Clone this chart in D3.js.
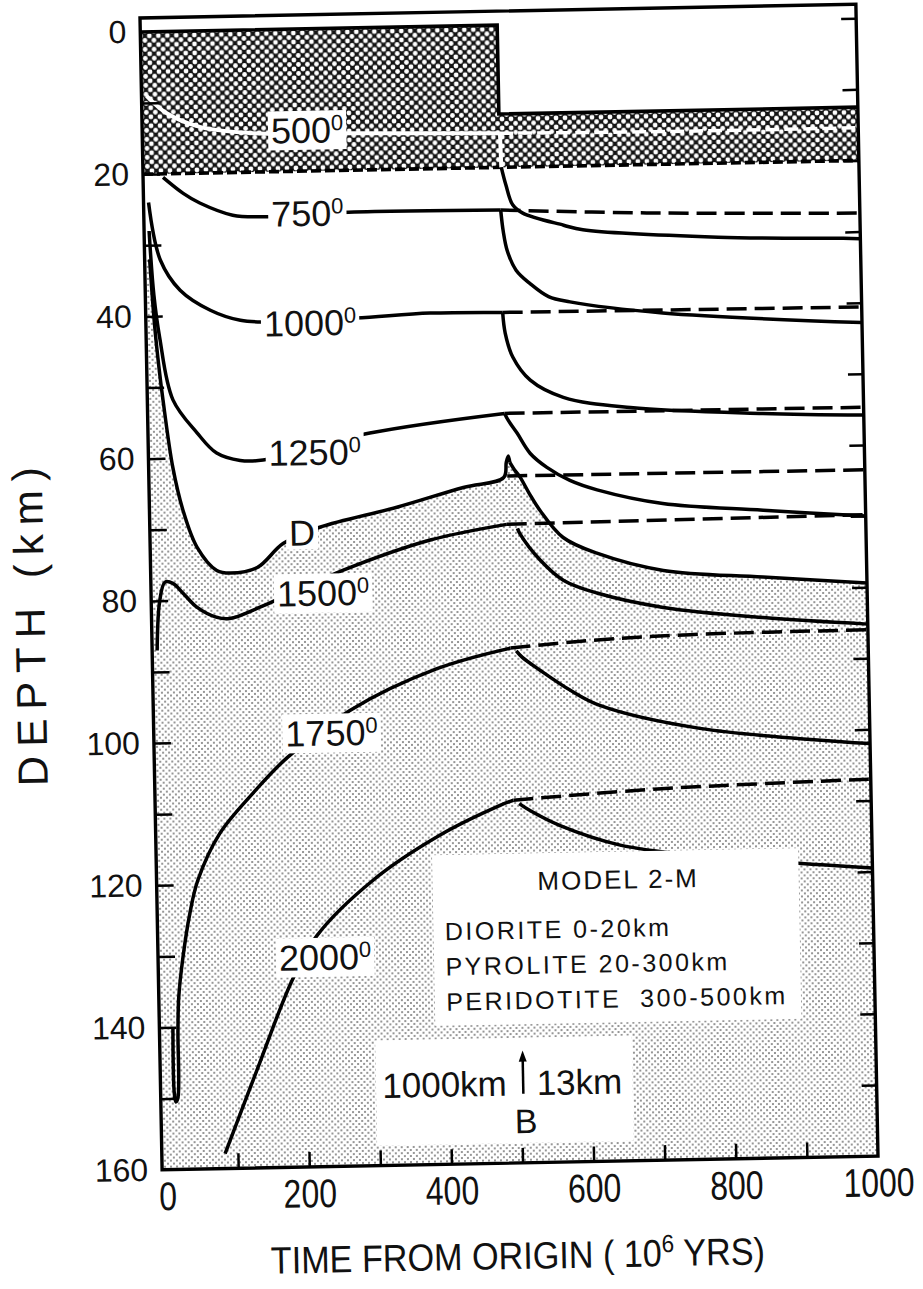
<!DOCTYPE html>
<html>
<head>
<meta charset="utf-8">
<script src="https://cdn.jsdelivr.net/npm/d3@7"></script>
<style>
  body { margin: 0; background: #fff; }
  svg { display: block; }
</style>
</head>
<body>
<svg id="chart"></svg>
<script>
// axis values
var timeTicks = [100, 200, 300, 400, 500, 600, 700, 800, 900];
var timeLabels = [0, 200, 400, 600, 800, 1000];
var depthTicks = [10, 20, 30, 40, 50, 60, 70, 80, 90, 100, 110, 120, 130, 140, 150];
var depthLabels = [0, 20, 40, 60, 80, 100, 120, 140, 160];

// crust (diorite) before and after the 13 km removal
var eventTime = 495;
var crustTopAfter = 12.5;
var crustBase = 20;

// isotherms, [time (Myr), depth (km)]
var iso500Pre  = [[0, 9], [28, 11.5], [74, 13.5], [145, 14.5], [289, 14.8], [495, 15.2]];
var iso500Dash = [[495, 15.2], [700, 15.4], [1000, 15.4]];
var iso500Drop = [[496, 15.2], [497, 20]];
var iso500Post = [[497, 20], [503, 22.5], [512, 25.3], [526, 26.5], [583, 28.3], [610, 29], [800, 30.4], [976, 30.9], [1000, 31]];

var iso750Pre  = [[21, 20.5], [49, 22.8], [72, 24.2], [118, 26], [157, 26.3], [281, 25.9], [495, 26]];
var iso750Dash = [[495, 26], [700, 26.8], [1000, 27.4]];
var iso750Post = [[495, 26], [498, 29], [503, 31.7], [515, 34.5], [534, 36.4], [560, 38.3], [590, 39.1], [720, 40.9], [1000, 42.8]];

var iso1000Pre  = [[0, 24], [15, 32.1], [42, 36.4], [84, 39.3], [126, 40.8], [161, 41.1], [288, 40.8], [393, 40.3], [495, 40.4]];
var iso1000Dash = [[495, 40.4], [1000, 40.6]];
var iso1000Post = [[495, 40.4], [498, 43.3], [508, 46.7], [532, 50], [578, 52.5], [672, 54.1], [858, 55.3], [1000, 55.8]];

var iso1250Pre  = [[0, 28], [5, 37], [12, 43], [29, 51.8], [62, 56.5], [89, 59.4], [122, 60.5], [154, 60.5], [305, 57], [495, 54.6]];
var iso1250Dash = [[495, 54.6], [1000, 54.7]];
var iso1250Post = [[495, 54.6], [500, 55.6], [512, 57.4], [530, 60.3], [553, 62.3], [585, 64.2], [623, 65.6], [715, 67.7], [856, 68.9], [1000, 70]];

// D curve (edge of the stippled zone)
var solidusPre  = [[0, 32], [5, 41], [10, 47], [15, 51.8], [27, 61.3], [40, 67.3], [59, 72.6], [86, 75.9], [105, 76.3], [143, 75.6], [180, 72.3], [232, 70.1], [341, 67.5], [435, 64.9], [492, 63.6], [496, 61.5], [499, 60.6], [501, 61.5]];
var solidusDash = [[497, 63.4], [1000, 63.5]];
var solidusPost = [[501, 61.5], [507, 62.5], [515, 63.6], [528, 66], [542, 68.3], [574, 72.2], [621, 74.5], [714, 77.1], [854, 78.3], [1000, 79.4]];

var iso1500Pre  = [[0, 87], [5, 80], [13, 77.4], [24, 77.6], [38, 79], [57, 81], [85, 82.5], [103, 82.7], [150, 81], [264, 76.2], [387, 72.2], [495, 70.2]];
var iso1500Dash = [[495, 70.2], [1000, 69.8]];
var iso1500Post = [[510, 70.8], [513, 71.5], [541, 75.3], [573, 78.2], [620, 80.1], [713, 82.3], [853, 84], [1000, 85.2]];

var iso1750Pre  = [[12, 140], [12, 149], [14, 150.5], [17, 150], [19, 140.5], [21, 135.8], [28, 130.2], [39, 124], [51, 119.4], [83, 112.9], [131, 107.3], [180, 102.4], [270, 95.9], [393, 90.3], [497, 87.6]];
var iso1750Dash = [[497, 87.6], [600, 86.8], [750, 86.2], [1000, 86]];
var iso1750Post = [[505, 88], [513, 88.9], [538, 90.8], [580, 93.7], [621, 95.9], [761, 99.4], [1000, 102]];

var iso2000Pre  = [[82, 157.9], [130, 146], [181, 133.7], [217, 127.5], [297, 119.9], [393, 113.7], [478, 109.7], [497, 109]];
var iso2000Dash = [[497, 109], [700, 107.8], [1000, 107]];
var iso2000Post = [[505, 109.5], [520, 110.5], [562, 112.7], [646, 115.6], [758, 117.3], [1000, 119.5]];

// curve labels: [text, time, depth]
var isoLabels = [["500", 225, 14.2], ["750", 223, 25.9], ["1000", 224, 41.3], ["1250", 227, 59.5],
                 ["1500", 235, 79.3], ["1750", 243, 99], ["2000", 228, 130.5]];
var solidusLabel = ["D", 207, 70.8];

// legend boxes: [t0, d0, t1, d1]
var legendBox = [381, 116.5, 896, 140.5];
var scaleBox = [296, 142.4, 657, 157.2];
var legendLines = ["DIORITE 0-20km", "PYROLITE 20-300km", "PERIDOTITE  300-500km"];

var W = 923, H = 1289;
var frameW = 716, frameH = 1152;

var svg = d3.select("#chart").attr("width", W).attr("height", H);
var defs = svg.append("defs");

var hatch = defs.append("pattern").attr("id", "hatch")
  .attr("patternUnits", "userSpaceOnUse").attr("width", 9).attr("height", 9);
hatch.append("rect").attr("width", 9).attr("height", 9).attr("fill", "#141414");
[[0, 0], [9, 0], [0, 9], [9, 9], [4.5, 4.5]].forEach(function(p) {
  hatch.append("circle").attr("cx", p[0]).attr("cy", p[1]).attr("r", 2.4).attr("fill", "#fff");
});

var dots = defs.append("pattern").attr("id", "dots")
  .attr("patternUnits", "userSpaceOnUse").attr("width", 6).attr("height", 6);
dots.append("rect").attr("width", 6).attr("height", 6).attr("fill", "#fff");
[[0, 0], [6, 0], [0, 6], [6, 6], [3, 3]].forEach(function(p) {
  dots.append("circle").attr("cx", p[0]).attr("cy", p[1]).attr("r", 0.95).attr("fill", "#6a6a6a");
});

// the scanned figure is tilted a little
var g = svg.append("g").attr("transform", "translate(140,18) rotate(-1.1)");

var x = d3.scaleLinear().domain([0, 1000]).range([5, frameW]);
var y = d3.scaleLinear().domain([0, 160]).range([14, frameH]);
var tLeft = x.invert(0);

var line = d3.line()
  .x(function(p) { return x(p[0]); })
  .y(function(p) { return y(p[1]); })
  .curve(d3.curveCatmullRom.alpha(0.5));
var poly = d3.line()
  .x(function(p) { return x(p[0]); })
  .y(function(p) { return y(p[1]); });

// stippled zone below D
var stipple = [[tLeft, solidusPre[0][1]]].concat(solidusPre, solidusPost.slice(1));
g.append("path").attr("d", line(stipple) + "L" + x(1000) + "," + y(160) + "L0," + y(160) + "Z")
  .attr("fill", "url(#dots)");

// crust
var crust = [[tLeft, 0], [eventTime, 0], [eventTime, crustTopAfter], [1000, crustTopAfter], [1000, crustBase], [tLeft, crustBase]];
g.append("path").attr("d", poly(crust) + "Z").attr("fill", "url(#hatch)");
g.append("path").attr("d", poly(crust.slice(0, 4)))
  .attr("fill", "none").attr("stroke", "#000").attr("stroke-width", 3.6);
g.append("path").attr("d", poly([[tLeft, crustBase], [1000, crustBase]]))
  .attr("fill", "none").attr("stroke", "#000").attr("stroke-width", 3.6).attr("stroke-dasharray", "10,4");

// 500 isotherm runs inside the crust, drawn white
g.append("path").attr("d", line(iso500Pre)).attr("fill", "none").attr("stroke", "#fff").attr("stroke-width", 4);
g.append("path").attr("d", line(iso500Dash)).attr("fill", "none").attr("stroke", "#fff").attr("stroke-width", 3.5).attr("stroke-dasharray", "14,5");
g.append("path").attr("d", poly(iso500Drop)).attr("fill", "none").attr("stroke", "#fff").attr("stroke-width", 4);

var solid = [iso500Post, iso750Pre, iso750Post, iso1000Pre, iso1000Post, iso1250Pre, iso1250Post,
             solidusPre, solidusPost, iso1500Pre, iso1500Post, iso1750Pre, iso1750Post, iso2000Pre, iso2000Post];
var dashed = [iso750Dash, iso1000Dash, iso1250Dash, solidusDash, iso1500Dash, iso1750Dash, iso2000Dash];

g.append("g").selectAll("path").data(solid).enter().append("path")
  .attr("d", line).attr("fill", "none").attr("stroke", "#000")
  .attr("stroke-width", 3.5).attr("stroke-linejoin", "round");
g.append("g").selectAll("path").data(dashed).enter().append("path")
  .attr("d", line).attr("fill", "none").attr("stroke", "#000")
  .attr("stroke-width", 3.5).attr("stroke-dasharray", "20,8");

// white boxes
function box(b) {
  g.append("rect").attr("x", x(b[0])).attr("y", y(b[1]))
    .attr("width", x(b[2]) - x(b[0])).attr("height", y(b[3]) - y(b[1])).attr("fill", "#fff");
}
box(legendBox);
box(scaleBox);

var labels = g.append("g").attr("font-family", "'Liberation Sans', Arial, sans-serif").attr("font-size", 36).attr("fill", "#111");
isoLabels.forEach(function(l) {
  var t = labels.append("text").attr("x", x(l[1])).attr("y", y(l[2]) + 13).attr("text-anchor", "middle");
  t.append("tspan").text(l[0]);
  t.append("tspan").attr("dy", "-0.55em").attr("font-size", 22).text("0");
  var bb = t.node().getBBox();
  labels.insert("rect", "text").attr("x", bb.x - 3).attr("y", y(l[2]) - 19)
    .attr("width", bb.width + 6).attr("height", 39).attr("fill", "#fff");
});
var dl = labels.append("text").attr("x", x(solidusLabel[1])).attr("y", y(solidusLabel[2]) + 13)
  .attr("text-anchor", "middle").text(solidusLabel[0]);
var dbb = dl.node().getBBox();
labels.insert("rect", "text").attr("x", dbb.x - 3).attr("y", y(solidusLabel[2]) - 15)
  .attr("width", dbb.width + 6).attr("height", 32).attr("fill", "#fff");

// legend text
var leg = g.append("g").attr("font-family", "'Liberation Sans', Arial, sans-serif").attr("fill", "#111");
leg.append("text").attr("x", x(642)).attr("y", y(121.7)).attr("text-anchor", "middle")
  .attr("font-size", 26).attr("letter-spacing", 2).text("MODEL 2-M");
leg.selectAll("text.row").data(legendLines).enter().append("text").attr("class", "row")
  .attr("x", x(397)).attr("y", function(d, i) { return y(128.5 + i * 4.95); })
  .attr("font-size", 25).attr("letter-spacing", 2.5).attr("xml:space", "preserve").text(function(d) { return d; });

leg.append("text").attr("x", x(480)).attr("y", y(150.5)).attr("text-anchor", "end")
  .attr("font-size", 35).text("1000km");
leg.append("text").attr("x", x(522)).attr("y", y(150.5)).attr("font-size", 35).text("13km");
leg.append("text").attr("x", x(506)).attr("y", y(155.8)).attr("text-anchor", "middle")
  .attr("font-size", 34).text("B");
leg.append("line").attr("x1", x(503)).attr("x2", x(503)).attr("y1", y(150.3)).attr("y2", y(144.8))
  .attr("stroke", "#000").attr("stroke-width", 2.5);
leg.append("path").attr("d", "M" + x(503) + "," + (y(144.5) - 2) + "l-4,11h8z").attr("fill", "#000");

// frame and ticks
g.append("rect").attr("width", frameW).attr("height", frameH)
  .attr("fill", "none").attr("stroke", "#000").attr("stroke-width", 3.4);

function clean(sel) {
  sel.select(".domain").remove();
  sel.selectAll(".tick line").attr("stroke", "#000").attr("stroke-width", 2.5);
}
g.append("g").attr("transform", "translate(0," + frameH + ")")
  .call(d3.axisBottom(x).tickValues(timeTicks).tickSize(-15).tickFormat(""))
  .call(clean);
g.append("g").call(d3.axisLeft(y).tickValues(depthTicks).tickSize(-17).tickFormat(""))
  .call(clean);
g.append("g").attr("transform", "translate(" + frameW + ",0)")
  .call(d3.axisRight(y).tickValues([0].concat(depthTicks)).tickSize(-15).tickFormat(""))
  .call(clean);

var xl = g.append("g").attr("transform", "translate(0," + frameH + ")")
  .call(d3.axisBottom(x).tickValues(timeLabels).tickSize(0).tickPadding(12).tickFormat(d3.format("d")));
xl.select(".domain").remove();
xl.selectAll("text").attr("font-family", "'Liberation Sans', Arial, sans-serif")
  .attr("font-size", 40).attr("fill", "#111").attr("transform", "scale(0.8,1)");

var yl = g.append("g")
  .call(d3.axisLeft(y).tickValues(depthLabels).tickSize(0).tickPadding(14).tickFormat(d3.format("d")));
yl.select(".domain").remove();
yl.selectAll("text").attr("font-family", "'Liberation Sans', Arial, sans-serif")
  .attr("font-size", 32).attr("fill", "#111");

// axis titles
var xt = g.append("text").attr("transform", "translate(354,1258) scale(0.9,1)").attr("text-anchor", "middle")
  .attr("font-family", "'Liberation Sans', Arial, sans-serif")
  .attr("font-size", 38).attr("fill", "#111");
xt.append("tspan").text("TIME FROM ORIGIN ( 10");
xt.append("tspan").attr("dy", -14).attr("font-size", 25).text("6");
xt.append("tspan").attr("dy", 14).text(" YRS)");

g.append("text").attr("transform", "translate(-107,602) rotate(-90)").attr("text-anchor", "middle")
  .attr("font-family", "'Liberation Sans', Arial, sans-serif")
  .attr("font-size", 42).attr("letter-spacing", 9).attr("fill", "#111")
  .text("DEPTH (km)");
</script>
</body>
</html>
